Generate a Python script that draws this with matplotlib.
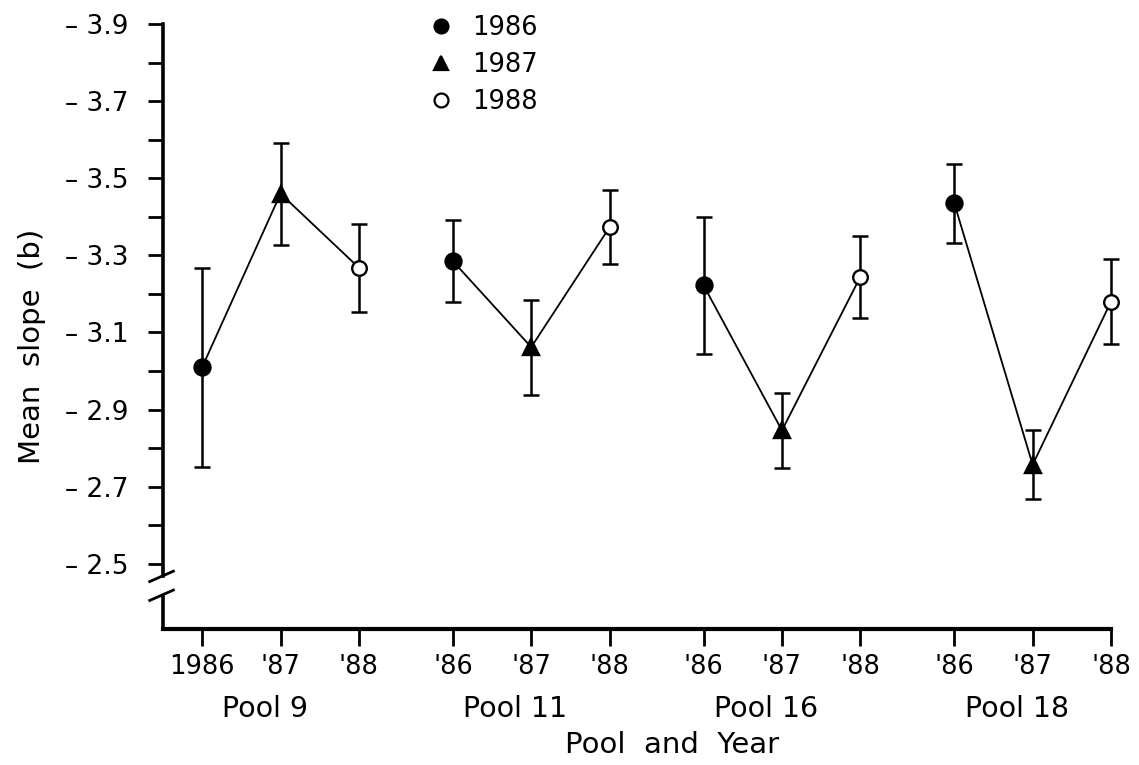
import matplotlib.pyplot as plt
import matplotlib.transforms as mtransforms
from matplotlib.lines import Line2D
from matplotlib.ticker import FixedLocator, FuncFormatter

# mean slope (b) per pool and year, with error bar half-widths
pools = ['Pool 9', 'Pool 11', 'Pool 16', 'Pool 18']
years = ['1986', '1987', '1988']
tick_years = ['1986', "'87", "'88", "'86", "'87", "'88",
              "'86", "'87", "'88", "'86", "'87", "'88"]

slope_1986 = [-3.01, -3.285, -3.222, -3.435]
slope_1987 = [-3.46, -3.062, -2.846, -2.757]
slope_1988 = [-3.268, -3.373, -3.244, -3.180]

err_1986 = [0.258, 0.107, 0.177, 0.103]
err_1987 = [0.132, 0.123, 0.097, 0.090]
err_1988 = [0.114, 0.096, 0.106, 0.110]

pool_gap = 3.2

plt.rcParams['font.family'] = ['DejaVu Sans']

fig = plt.figure(figsize=(11.39, 7.65), dpi=100)
ax = fig.add_axes([163 / 1139, 1 - 629 / 765, (1111 - 163) / 1139, (629 - 24) / 765])

slopes = [slope_1986, slope_1987, slope_1988]
errs = [err_1986, err_1987, err_1988]
markers = ['o', '^', 'o']
faces = ['black', 'black', 'white']
sizes = [11.5, 11.5, 10.5]

# one connecting line per pool
for i in range(len(pools)):
    xs = [i * pool_gap + j for j in range(3)]
    ys = [slopes[j][i] for j in range(3)]
    ax.plot(xs, ys, color='black', lw=1.3, zorder=2, clip_on=False)

for j in range(3):
    xs = [i * pool_gap + j for i in range(len(pools))]
    eb = ax.errorbar(xs, slopes[j], yerr=errs[j], fmt='none', ecolor='black',
                     elinewidth=1.8, capsize=6, capthick=1.8, zorder=3)
    for art in eb.lines[1] + eb.lines[2]:
        art.set_clip_on(False)
    ax.plot(xs, slopes[j], linestyle='none', marker=markers[j], ms=sizes[j],
            mfc=faces[j], mec='black', mew=1.7, zorder=4, clip_on=False)

ax.set_xlim(-0.5, 11.6)
ax.set_ylim(-2.331, -3.9)

xticks = [i * pool_gap + j for i in range(len(pools)) for j in range(3)]
ax.set_xticks(xticks)
ax.set_xticklabels(tick_years)
ax.yaxis.set_major_locator(FixedLocator([-3.9, -3.7, -3.5, -3.3, -3.1, -2.9, -2.7, -2.5]))
ax.yaxis.set_minor_locator(FixedLocator([-3.8, -3.6, -3.4, -3.2, -3.0, -2.8, -2.6]))
ax.yaxis.set_major_formatter(FuncFormatter(lambda v, p: f'\u2013 {abs(v):.1f}'))

ax.tick_params(axis='y', which='both', direction='out', length=11, width=2.0,
               labelsize=19, pad=14)
ax.tick_params(axis='x', direction='out', length=12, width=2.0,
               labelsize=18.5, pad=6)

for s in ['top', 'right']:
    ax.spines[s].set_visible(False)
ax.spines['left'].set_linewidth(2.6)
ax.spines['bottom'].set_linewidth(3.0)
ax.spines['left'].set_bounds(-3.9, -2.469)

# axis break on the y axis
trans = mtransforms.blended_transform_factory(ax.transAxes, ax.transData)
ax.plot([0, 0], [-2.420, -2.331], color='black', lw=2.6, transform=trans,
        clip_on=False, solid_capstyle='butt')
for yc in [-2.469, -2.420]:
    ax.plot([-0.014, 0.011], [yc + 0.015, yc - 0.012], color='black', lw=2.0,
            transform=trans, clip_on=False)

# pool names under the year ticks
label_shift = ax.transData + mtransforms.ScaledTranslation(0, -66 / 100, fig.dpi_scale_trans)
for i, name in enumerate(pools):
    ax.text(i * pool_gap + 0.8, -2.331, name, transform=label_shift,
            ha='center', va='top', fontsize=20.5)

fig.text(672 / 1139, 1 - 745 / 765, 'Pool  and  Year', ha='center', va='center',
         fontsize=21)
fig.text(32 / 1139, 1 - 346 / 765, 'Mean  slope  (b)', rotation=90,
         ha='center', va='center', fontsize=21)

handles = [Line2D([], [], linestyle='none', marker=markers[j], ms=10,
                  mfc=faces[j], mec='black', mew=1.6) for j in range(3)]
ax.legend(handles, years, loc='upper left', bbox_to_anchor=(428 / 1139, 1 - 15 / 765),
          bbox_transform=fig.transFigure, frameon=False, fontsize=18.5,
          handlelength=1.0, handletextpad=0.7, labelspacing=0.42,
          borderpad=0, borderaxespad=0)

fig.savefig('out.png', dpi=100)
